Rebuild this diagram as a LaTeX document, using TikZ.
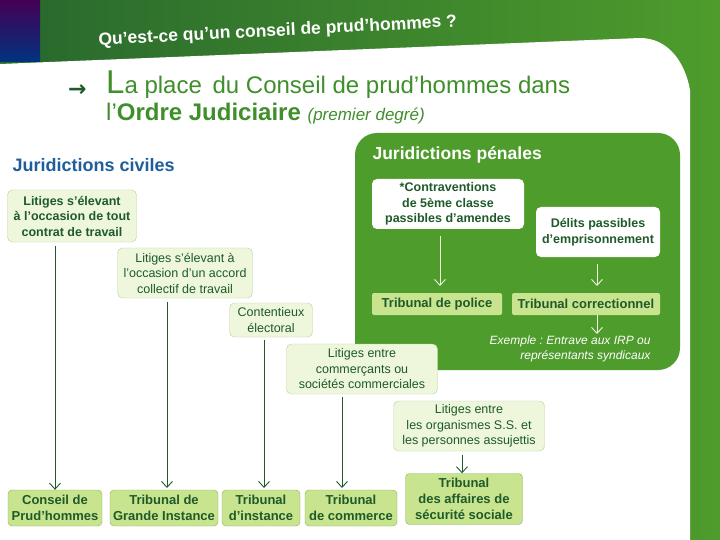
\documentclass[tikz,border=0pt]{standalone}
\usepackage{fontspec}
\setmainfont{Liberation Sans}
\newfontfamily\dejavu{DejaVu Sans}
\usetikzlibrary{arrows.meta}
\frenchspacing
\definecolor{dg}{HTML}{1E5A2A}
\definecolor{bggreen}{HTML}{2F7A35}
\definecolor{pgreen}{HTML}{4E9C2C}
\definecolor{lgreen}{HTML}{C9E48E}
\definecolor{lborder}{HTML}{86B55C}
\definecolor{pale}{HTML}{EEF7DC}
\definecolor{titleg}{HTML}{3F8F2A}
\definecolor{bluet}{HTML}{1F5E9A}
\tikzset{
 box/.style={draw=lborder,fill=lgreen,rounded corners=4pt,align=center,text=dg,font=\bfseries\fontsize{13}{16}\selectfont,inner sep=1pt},
 palebox/.style={draw=lborder!60,fill=pale,rounded corners=5pt,align=center,text=dg,font=\fontsize{12.5}{15.5}\selectfont,inner sep=1pt},
 whitebox/.style={fill=white,rounded corners=5pt,align=center,text=dg,font=\bfseries\fontsize{12.5}{15.5}\selectfont,inner sep=1pt},
 pbox/.style={fill=lgreen,rounded corners=2pt,align=center,text=dg,font=\bfseries\fontsize{13}{14}\selectfont,inner sep=1pt},
 arr/.style={draw=dg,line width=0.9pt,-{Straight Barb[length=6pt,width=11pt]}},
 warr/.style={draw=pale,line width=0.9pt,-{Straight Barb[length=6pt,width=11pt]}}
}
\begin{document}
\begin{tikzpicture}[x=1pt,y=-1pt]
\useasboundingbox (0,0) rectangle (720,540);
\shade[left color=bggreen!85!black, right color=pgreen] (0,0) rectangle (720,540);
\shade[top color=blue!40!purple!60!black, bottom color=blue!60!cyan!50!black] (0,0) rectangle (40,62);
\fill[white] (0,64) -- (640,38) to[out=0,in=100] (690,90) -- (690,540) -- (0,540) -- cycle;
\node[anchor=west,rotate=3,text=white,font=\bfseries\fontsize{17.5}{19}\selectfont] (t) at (95,41) {Qu’est-ce qu’un conseil de prud’hommes ?};
\node[anchor=west,text=dg,font=\dejavu\bfseries\fontsize{22}{22}\selectfont,inner sep=0] (ar) at (68,91) {→};
\node[anchor=west,text=titleg,font=\fontsize{24}{27}\selectfont,inner sep=0] (h1) at (106,85) {{\fontsize{33}{33}\selectfont L}a place\, du Conseil de prud’hommes dans};
\node[anchor=west,text=titleg,font=\fontsize{24}{27}\selectfont,inner sep=0] (h2) at (106,114) {l’\textbf{Ordre Judiciaire} {\fontsize{17}{19}\selectfont\itshape (premier degré)}};
% penal
\fill[pgreen,rounded corners=22pt] (355,133) rectangle (680,370);
\node[anchor=west,text=white,font=\bfseries\fontsize{17.5}{19}\selectfont] (jp) at (369,155) {Juridictions pénales};
\node[whitebox,minimum width=152pt,minimum height=50pt] (c5) at (448,204) {*Contraventions\\de 5ème classe\\passibles d’amendes};
\node[whitebox,minimum width=124pt,minimum height=50pt] (dl) at (598,232) {Délits passibles\\d’emprisonnement};
\node[pbox,minimum width=130pt,minimum height=22pt] (tp) at (437,304) {Tribunal de police};
\node[pbox,minimum width=148pt,minimum height=22pt] (tc) at (586,304) {Tribunal correctionnel};
\draw[warr] (440,236) -- (440,286);
\draw[warr] (597,264) -- (597,286);
\draw[warr] (tc.south -| 597,0) -- (597,334);
\node[anchor=east,align=right,text=white,font=\itshape\fontsize{12}{15}\selectfont] (ex) at (654,349) {Exemple : Entrave aux IRP ou\\représentants syndicaux};
% civil
\node[anchor=west,text=bluet,font=\bfseries\fontsize{18}{19}\selectfont] (jc) at (9,165) {Juridictions civiles};
\node[palebox,font=\bfseries\fontsize{12.5}{15.5}\selectfont,minimum width=129pt,minimum height=52pt] (l1) at (72,216) {Litiges s’élevant\\à l’occasion de tout\\contrat de travail};
\node[palebox,minimum width=135pt,minimum height=50pt] (l2) at (185,273) {Litiges s’élevant à\\l’occasion d’un accord\\collectif de travail};
\node[palebox,minimum width=83pt,minimum height=34pt] (l3) at (271,320) {Contentieux\\électoral};
\node[palebox,minimum width=151pt,minimum height=50pt] (l4) at (362,369) {Litiges entre\\commerçants ou\\sociétés commerciales};
\node[palebox,minimum width=151pt,minimum height=50pt] (l5) at (469,426) {Litiges entre\\les organismes S.S. et\\les personnes assujettis};
\node[box,minimum width=94pt,minimum height=36pt] (b1) at (55,508) {Conseil de\\Prud’hommes};
\node[box,minimum width=108pt,minimum height=36pt] (b2) at (164,508) {Tribunal de\\Grande Instance};
\node[box,minimum width=78pt,minimum height=36pt] (b3) at (261,508) {Tribunal\\d’instance};
\node[box,minimum width=92pt,minimum height=36pt] (b4) at (351,508) {Tribunal\\de commerce};
\node[box,minimum width=117pt,minimum height=51pt] (b5) at (464,499) {Tribunal\\des affaires de\\sécurité sociale};
\draw[arr] (l1.south -| b1.north) ++(0,4) -- (b1.north);
\draw[arr] (167,302) -- (167,488);
\draw[arr] (264,340) -- (264,488);
\draw[arr] (342,397) -- (342,488);
\draw[arr] (462,455) -- (b5.north -| 462,0);
\end{tikzpicture}
\end{document}
